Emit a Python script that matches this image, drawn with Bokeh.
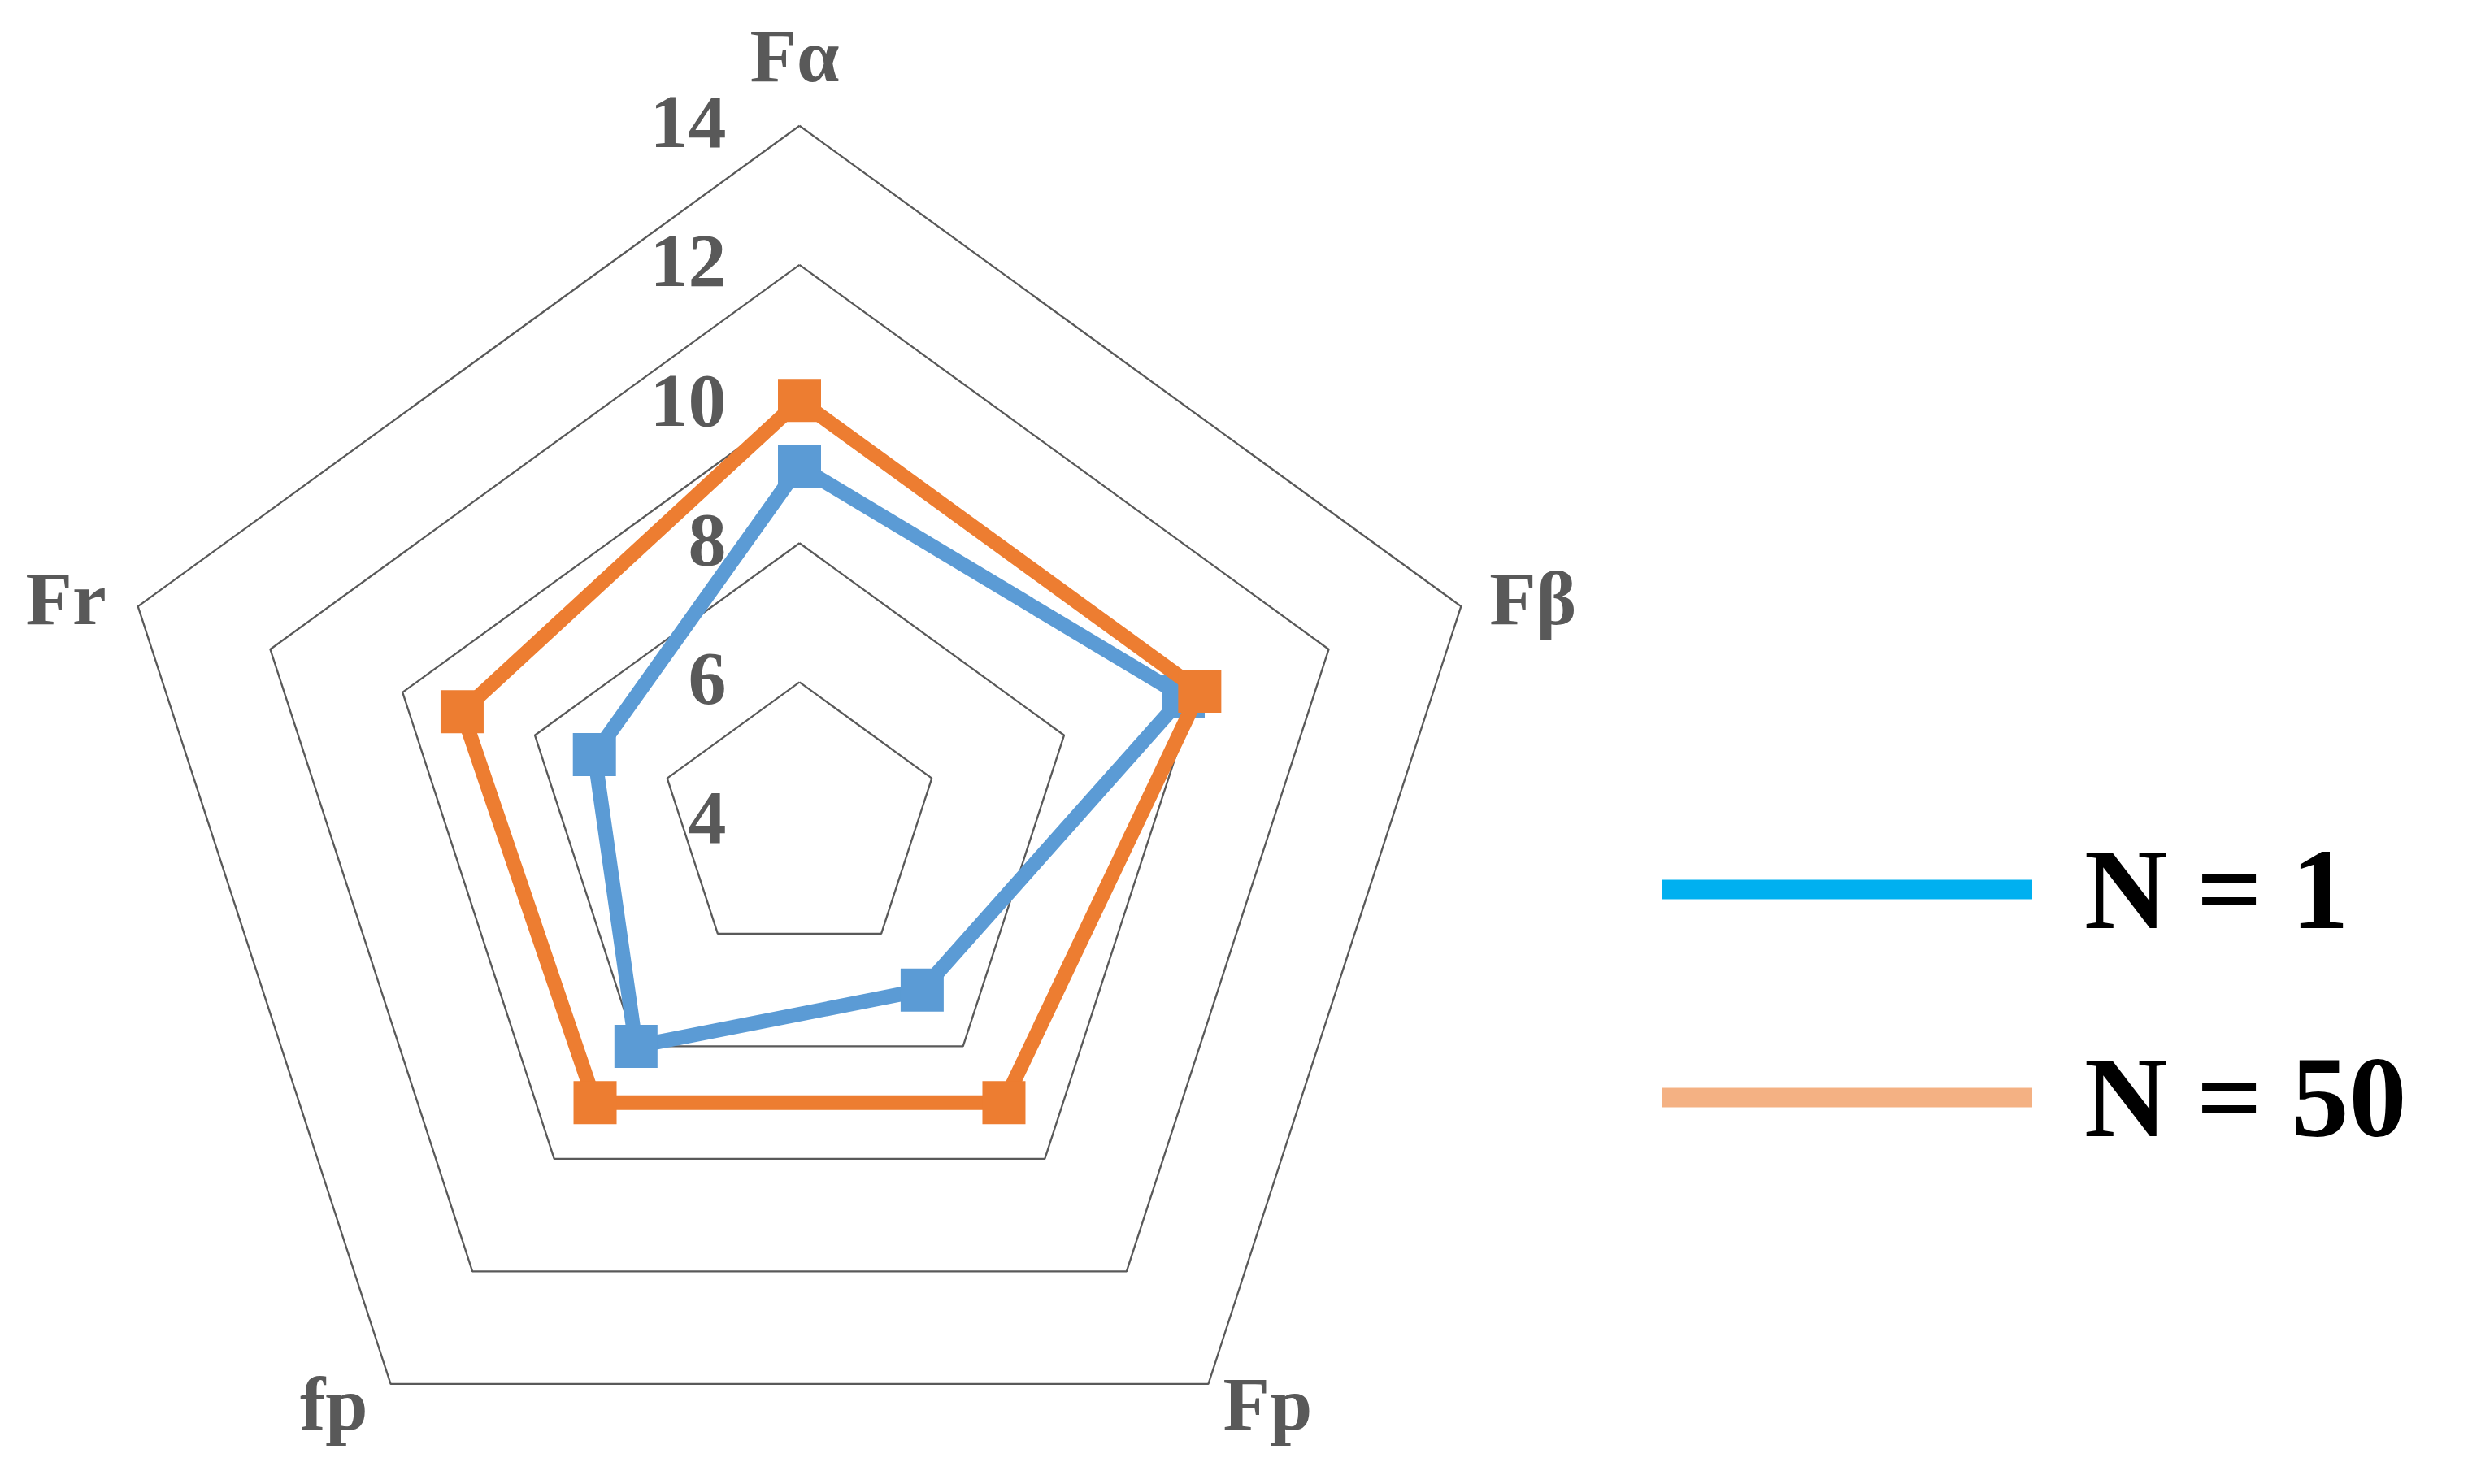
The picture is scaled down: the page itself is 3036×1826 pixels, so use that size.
import numpy as np
from bokeh.plotting import figure
from bokeh.models import Range1d, ColumnDataSource, Legend, LegendItem
from bokeh.core.properties import value
from bokeh.embed import file_html
from bokeh.resources import INLINE

# ---- data ----
categories = ["Fα", "Fβ", "Fp", "fp", "Fr"]
n1_values = [9.1, 9.8, 7.0, 8.0, 7.1]
n50_values = [10.05, 10.05, 9.0, 9.0, 9.1]
ticks = [4, 6, 8, 10, 12, 14]
series_labels = ["N = 1", "N = 50"]

# ---- styles ----
r_min, r_max = ticks[0], ticks[-1]
W, H = 3020, 1810
k = 85.57            # pixels per unit
cx_px, cy_px = 983.0, 1010.0
FONT_NAME = "Liberation Serif"
FONT = value(FONT_NAME)
label_dx = [-6, 35, 18, -28, -39]
label_dy = [-87, -10, 24, 24, -10]
label_align = ["center", "left", "left", "right", "right"]

p = figure(width=W, height=H, output_backend="svg", toolbar_location=None,
           x_axis_type=None, y_axis_type=None,
           x_range=Range1d(-cx_px / k, (W - cx_px) / k),
           y_range=Range1d(-(H - cy_px) / k, cy_px / k),
           min_border=0, outline_line_color=None, background_fill_color="white",
           border_fill_color="white")
p.xgrid.visible = False
p.ygrid.visible = False

n = len(categories)
theta = np.arange(n) * 2 * np.pi / n

def to_xy(vals):
    r = np.asarray(vals, dtype=float) - r_min
    return r * np.sin(theta), r * np.cos(theta)

# grid pentagons
gx, gy = [], []
for lvl in ticks[1:]:
    x, y = to_xy([lvl] * n)
    gx.append(list(x) + [x[0]])
    gy.append(list(y) + [y[0]])
p.multi_line(gx, gy, line_color="#595959", line_width=2.3)

# series
for vals, col in [(n1_values, "#5B9BD5"), (n50_values, "#ED7D31")]:
    x, y = to_xy(vals)
    xs = list(x) + [x[0]]
    ys = list(y) + [y[0]]
    p.line(xs, ys, line_color=col, line_width=18, line_join="round")
    p.scatter(list(x), list(y), marker="square", size=53, fill_color=col, line_color=col, line_width=0)

# tick labels
tsrc = ColumnDataSource(dict(x=[0.0] * len(ticks), y=[t - r_min for t in ticks],
                             t=[str(t) for t in ticks]))
p.text(x="x", y="y", text="t", source=tsrc, x_offset=-90, y_offset=-4,
       text_align="right", text_baseline="alphabetic", text_font=FONT,
       text_font_size="94px", text_font_style="bold", text_color="#595959")

# category labels
ox, oy = to_xy([r_max] * n)
csrc = ColumnDataSource(dict(x=list(ox), y=list(oy), t=categories, dx=label_dx,
                             dy=label_dy, al=label_align))
p.text(x="x", y="y", text="t", source=csrc, x_offset="dx", y_offset="dy",
       text_align="al", text_baseline="alphabetic", text_font=FONT,
       text_font_size="94px", text_font_style="bold", text_color="#595959")

# legend (proxy renderers placed outside the visible ranges)
far = [1000.0, 1001.0]
l1 = p.line(x=far, y=far, line_color="#00B0F0", line_width=24)
l2 = p.line(x=far, y=far, line_color="#F4B183", line_width=24)
legend = Legend(items=[LegendItem(label=series_labels[0], renderers=[l1]),
                       LegendItem(label=series_labels[1], renderers=[l2])],
                location=(2044, 375), orientation="vertical",
                glyph_width=456, glyph_height=170, label_height=170,
                label_standoff=64, spacing=86, padding=0, margin=0,
                border_line_alpha=0, background_fill_alpha=0,
                label_text_font=FONT_NAME, label_text_font_size="142px",
                label_text_font_style="bold", label_text_color="black")
p.add_layout(legend)

open("out.html", "w").write(file_html(p, INLINE))
